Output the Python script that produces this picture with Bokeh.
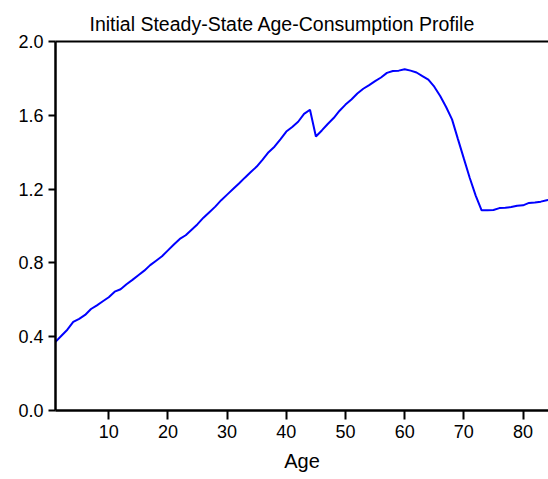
from bokeh.plotting import figure
from bokeh.models import Range1d, LinearAxis, FixedTicker, ColumnDataSource, Title, NumeralTickFormatter
from bokeh.embed import file_html
from bokeh.resources import INLINE

ages = list(range(1, 86))
consumption = [
    0.372, 0.405, 0.438, 0.480, 0.497, 0.518, 0.550, 0.570, 0.592, 0.614,
    0.644, 0.657, 0.684, 0.708, 0.733, 0.758, 0.788, 0.812, 0.836, 0.868,
    0.900, 0.930, 0.950, 0.980, 1.010, 1.045, 1.075, 1.105, 1.140, 1.170,
    1.200, 1.230, 1.262, 1.293, 1.322, 1.360, 1.400, 1.430, 1.470, 1.512,
    1.537, 1.565, 1.608, 1.630, 1.485, 1.518, 1.553, 1.585, 1.625, 1.658,
    1.686, 1.718, 1.744, 1.764, 1.785, 1.805, 1.830, 1.840, 1.842, 1.850,
    1.842, 1.832, 1.812, 1.793, 1.755, 1.705, 1.645, 1.578, 1.471, 1.365,
    1.260, 1.165, 1.085, 1.085, 1.087, 1.097, 1.099, 1.103, 1.110, 1.112,
    1.125, 1.128, 1.132, 1.140, 1.145,
]
x_ticks = [10, 20, 30, 40, 50, 60, 70, 80]
y_ticks = [0.0, 0.4, 0.8, 1.2, 1.6, 2.0]
title_text = "Initial Steady-State Age-Consumption Profile"
x_label = "Age"

FONT = "Liberation Sans"

p = figure(width=548, height=479, output_backend="svg", toolbar_location=None,
           x_range=Range1d(1, 84.3), y_range=Range1d(0, 2.0),
           min_border_left=55, min_border_right=0, min_border_top=41,
           min_border_bottom=69, x_axis_label=x_label)
p.title = Title(text=title_text, align="left", text_font=FONT,
                text_font_size="19.5px", text_font_style="normal",
                text_color="black", offset=34, standoff=13)
p.grid.visible = False
p.outline_line_color = None
p.background_fill_color = "white"
p.border_fill_color = "white"

src = ColumnDataSource(dict(age=ages, c=consumption))
p.line("age", "c", source=src, line_color="#0000FF", line_width=2)

for ax in p.xaxis:
    ax.ticker = FixedTicker(ticks=x_ticks)
for ax in p.yaxis:
    ax.ticker = FixedTicker(ticks=y_ticks)
p.yaxis.formatter = NumeralTickFormatter(format="0.0")

for ax in p.xaxis + p.yaxis:
    ax.axis_line_width = 2.5
    ax.axis_line_color = "black"
    ax.major_tick_line_width = 2
    ax.major_tick_line_color = "black"
    ax.major_tick_in = 0
    ax.minor_tick_line_color = None
    ax.major_label_text_font = FONT
    ax.major_label_text_font_size = "18px"
    ax.major_label_text_color = "black"
    ax.axis_label_text_font = FONT
    ax.axis_label_text_font_size = "20px"
    ax.axis_label_text_font_style = "normal"
    ax.axis_label_text_color = "black"

p.xaxis.major_tick_out = 9
p.yaxis.major_tick_out = 7
p.xaxis.major_label_standoff = 5
p.yaxis.major_label_standoff = 5
p.xaxis.axis_label_standoff = 9

top = LinearAxis(ticker=FixedTicker(ticks=[]), major_label_text_font_size="0px",
                 axis_line_width=2, axis_line_color="black",
                 major_tick_line_color=None, minor_tick_line_color=None)
p.add_layout(top, "above")

open("out.html", "w").write(file_html(p, INLINE))
